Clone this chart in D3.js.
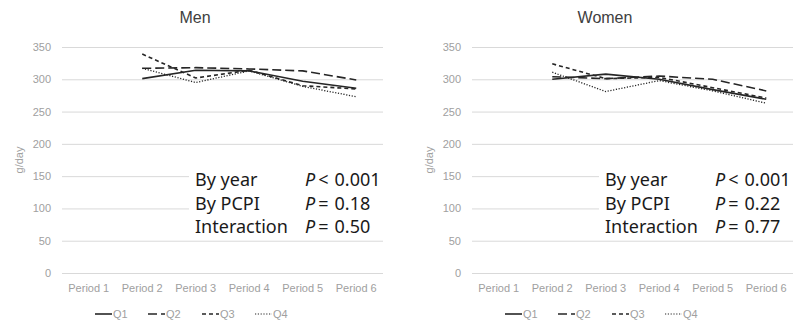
<!DOCTYPE html>
<html><head><meta charset="utf-8">
<script src="https://cdn.jsdelivr.net/npm/d3@7"></script>
<style>
body{margin:0;background:#fff;}
svg{display:block;font-family:"Noto Sans","Liberation Sans",sans-serif;}
</style></head>
<body><svg id="c" width="804" height="324"></svg>
<script>
const periods = ["Period 1","Period 2","Period 3","Period 4","Period 5","Period 6"];
const yTicks = [0,50,100,150,200,250,300,350];
const seriesNames = ["Q1","Q2","Q3","Q4"];
// values per quartile (Period 1 missing)
const menQ1 = [null,301,314,313,297,286];
const menQ2 = [null,317,318,316,313,299];
const menQ3 = [null,339,302,314,290,285];
const menQ4 = [null,317,295,313,289,273];
const womenQ1 = [null,300,308,300,284,269];
const womenQ2 = [null,304,301,305,300,282];
const womenQ3 = [null,324,301,303,287,271];
const womenQ4 = [null,311,281,298,282,263];
const menStats = [["By year","<","0.001"],["By PCPI","=","0.18"],["Interaction","=","0.50"]];
const womenStats = [["By year","<","0.001"],["By PCPI","=","0.22"],["Interaction","=","0.77"]];

const dashes = [null,"9,4","4,3","1.2,1.6"];
const svg = d3.select("#c");

function panel(off, title, data, stats){
  const g = svg.append("g").attr("transform",`translate(${off},0)`);
  const x = d3.scaleBand().domain(periods).range([62,383]);
  const y = d3.scaleLinear().domain([0,350]).range([273,47]);
  const ya = d3.axisLeft(y).tickValues(yTicks).tickSize(-(383-62)).tickPadding(11);
  const yg = g.append("g").attr("transform","translate(62,0)").call(ya);
  yg.select(".domain").remove();
  yg.selectAll("line").attr("stroke","#d9d9d9").attr("stroke-width",1);
  yg.selectAll("text").attr("fill","#a0a0a0").style("font-size","11px").style("font-family","'Liberation Sans',sans-serif");
  const xa = d3.axisBottom(x).tickSize(0).tickPadding(11);
  const xg = g.append("g").attr("transform","translate(0,273)").call(xa);
  xg.select(".domain").remove();
  xg.selectAll("text").attr("fill","#a0a0a0").style("font-size","11px").style("font-family","'Liberation Sans',sans-serif");
  g.append("text").attr("x",195).attr("y",23).attr("text-anchor","middle")
    .attr("fill","#404040").style("font-size","16px").style("font-family","'Liberation Sans',sans-serif").text(title);
  g.append("text").attr("transform","translate(23,160) rotate(-90)").attr("text-anchor","middle")
    .attr("fill","#a0a0a0").style("font-size","11px").style("font-family","'Liberation Sans',sans-serif").text("g/day");
  g.append("rect").attr("x",189).attr("y",166).attr("width",200).attr("height",70).attr("fill","#fff");
  const line = d3.line().defined(d=>d!=null)
    .x((d,i)=>x(periods[i])+x.bandwidth()/2).y(d=>y(d));
  data.forEach((s,k)=>{
    g.append("path").attr("d",line(s)).attr("fill","none").attr("stroke","#262626")
      .attr("stroke-width",k===3?1.3:1.6).attr("stroke-dasharray",dashes[k]);
  });
  stats.forEach((r,i)=>{
    const yy = 186 + i*23.5;
    g.append("text").attr("x",195).attr("y",yy).attr("fill","#1a1a1a").style("font-size","18px").text(r[0]);
    const t = g.append("text").attr("x",305).attr("y",yy).attr("fill","#1a1a1a").style("font-size","18px");
    t.append("tspan").style("font-style","italic").text("P");
    t.append("tspan").attr("dx",3).text(r[1]);
    t.append("tspan").attr("dx",6).text(r[2]);
  });
  const lx = [95,148,202,255];
  seriesNames.forEach((n,k)=>{
    g.append("line").attr("x1",lx[k]).attr("x2",lx[k]+17).attr("y1",314).attr("y2",314)
      .attr("stroke","#262626").attr("stroke-width",k===3?1.2:1.6).attr("stroke-dasharray",dashes[k]);
    g.append("text").attr("x",lx[k]+18).attr("y",318).attr("fill","#a0a0a0").style("font-size","11px")
      .style("font-family","'Liberation Sans',sans-serif").text(n);
  });
}
panel(0,"Men",[menQ1,menQ2,menQ3,menQ4],menStats);
panel(410,"Women",[womenQ1,womenQ2,womenQ3,womenQ4],womenStats);
</script></body></html>
